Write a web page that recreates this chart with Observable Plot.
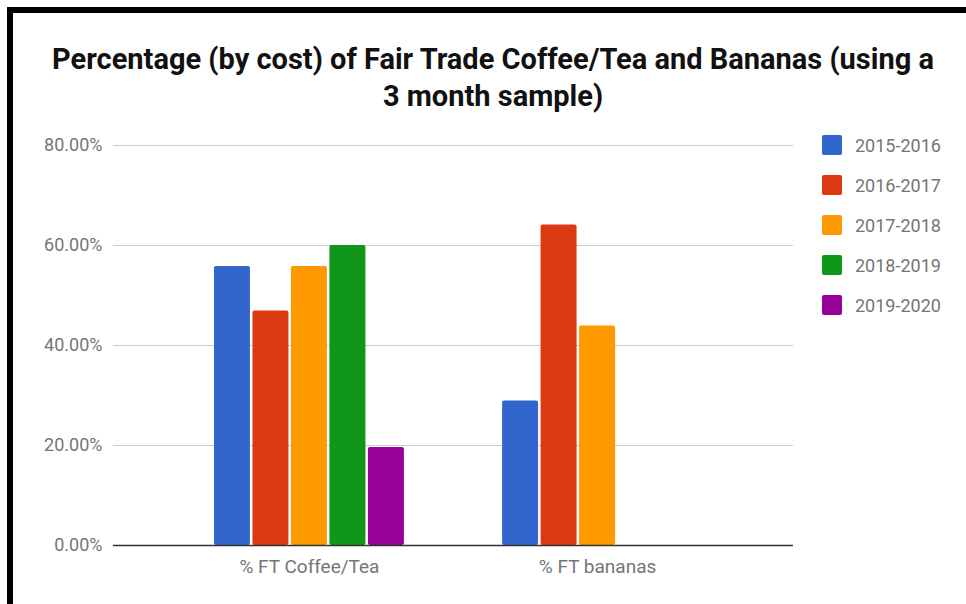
<!DOCTYPE html>
<html>
<head>
<meta charset="utf-8">
<script src="https://cdn.jsdelivr.net/npm/d3@7"></script>
<script src="https://cdn.jsdelivr.net/npm/@observablehq/plot@0.6"></script>
<style>
  html, body { margin: 0; padding: 0; background: #fff; }
  #wrap { position: relative; width: 966px; height: 604px; overflow: hidden; font-family: Roboto, sans-serif; }
  #borderTop { position: absolute; left: 7px; top: 7px; right: 0; height: 6px; background: #000; }
  #borderLeft { position: absolute; left: 7px; top: 7px; width: 6px; bottom: 0; background: #000; }
  #title { position: absolute; left: 20px; width: 946px; top: 41px; text-align: center; font-weight: bold; font-size: 29px; line-height: 37px; color: #111; }
  .layer { position: absolute; left: 0; top: 0; }
  #legend { position: absolute; left: 822px; top: 135px; }
  .item { display: flex; align-items: center; height: 20px; margin-bottom: 20px; }
  .sw { width: 20px; height: 20px; border-radius: 2px; margin-right: 13px; }
  .lab { font-size: 18px; color: #757575; }
</style>
</head>
<body>
<div id="wrap">
  <div id="grid" class="layer"></div>
  <div id="bars" class="layer"></div>
  <div id="axis" class="layer"></div>
  <div id="borderTop"></div>
  <div id="borderLeft"></div>
  <div id="title">Percentage (by cost) of Fair Trade Coffee/Tea and Bananas (using a<br>3 month sample)</div>
  <div id="legend"></div>
</div>
<script>
const categories = ["% FT Coffee/Tea", "% FT bananas"];
const years = ["2015-2016", "2016-2017", "2017-2018", "2018-2019", "2019-2020"];
const colors = ["#3366cc", "#dc3912", "#ff9900", "#109618", "#990099"];
const coffeeTea = [55.8, 46.9, 55.8, 60.0, 19.6];
const bananas = [28.9, 64.1, 43.9, null, null];
const yTicks = [0, 20, 40, 60, 80];

const series = [coffeeTea, bananas];
const data = [];
categories.forEach((c, i) => {
  years.forEach((y, j) => {
    const v = series[i][j];
    if (v != null) data.push({cat: c, year: y, value: v});
  });
});
const fmt = d => d.toFixed(2) + "%";

const common = {
  width: 966,
  height: 604,
  marginTop: 145,
  marginBottom: 59,
  marginLeft: 113,
  marginRight: 173,
  style: {fontFamily: "Roboto, sans-serif", fontSize: "18px", background: "transparent", overflow: "visible"}
};

// Layer 1: horizontal gridlines
const gridPlot = Plot.plot({
  ...common,
  y: {domain: [0, 80], axis: null},
  marks: [
    Plot.ruleY(yTicks.filter(d => d > 0), {stroke: "#cccccc", strokeWidth: 1.2})
  ]
});
document.getElementById("grid").appendChild(gridPlot);

// Layer 2: grouped bars, faceted by category
const barPlot = Plot.plot({
  ...common,
  fx: {domain: categories, paddingInner: 0.306, paddingOuter: 0.333, round: false, label: null},
  x: {domain: years, paddingInner: 0.065, paddingOuter: 0.13, round: false, axis: null},
  y: {domain: [0, 80], axis: null},
  color: {domain: years, range: colors},
  marks: [
    Plot.barY(data, {fx: "cat", x: "year", y: "value", fill: "year", rx: 2}),
    Plot.axisFx({anchor: "bottom", tickSize: 0, tickPadding: 14, label: null, fontSize: 19, fill: "#757575"})
  ]
});
document.getElementById("bars").appendChild(barPlot);

// Layer 3: baseline and y tick labels
const axisPlot = Plot.plot({
  ...common,
  y: {domain: [0, 80], axis: null},
  marks: [
    Plot.ruleY([0], {stroke: "#333333", strokeWidth: 1.5}),
    Plot.axisY(yTicks, {tickSize: 0, tickPadding: 11, tickFormat: fmt, label: null, fill: "#757575", fontSize: 18})
  ]
});
document.getElementById("axis").appendChild(axisPlot);

const legend = document.getElementById("legend");
years.forEach((y, i) => {
  const it = document.createElement("div");
  it.className = "item";
  it.innerHTML = `<div class="sw" style="background:${colors[i]}"></div><div class="lab">${y}</div>`;
  legend.appendChild(it);
});
</script>
</body>
</html>
